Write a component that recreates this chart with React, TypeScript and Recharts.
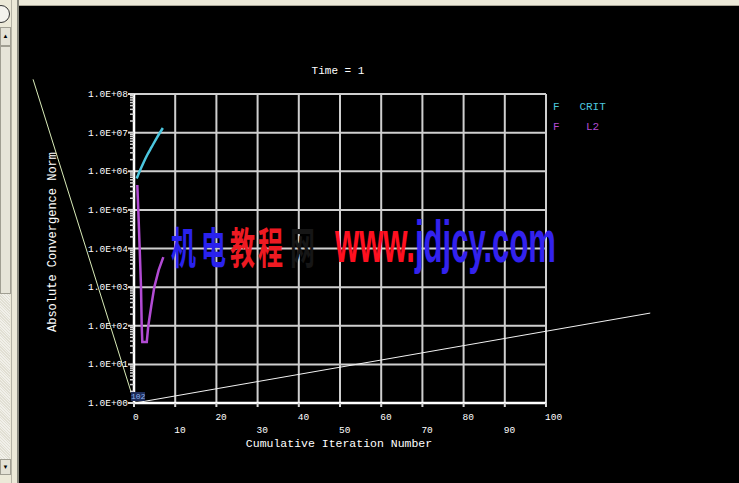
import React from 'react';
import { CartesianGrid, Line, LineChart, ReferenceLine, XAxis, YAxis } from 'recharts';

// ANSYS convergence plot, Time = 1
const critIter = [0.65, 1.5, 2.3, 3.2, 4.3, 5.5, 7.0];
const critNorm = [6.46e5, 1.07e6, 1.66e6, 2.63e6, 4.27e6, 7.24e6, 1.32e7];
const l2Iter = [0.8, 1.04, 1.38, 1.7, 1.87, 2.02, 3.1, 3.47, 4.2, 4.93, 6.0, 7.12];
const l2Norm = [4.4e5, 1e5, 1e4, 1e3, 1e2, 38, 38, 100, 330, 1000, 2800, 6000];

const xTicks = [0, 10, 20, 30, 40, 50, 60, 70, 80, 90, 100];
const yMajor = [1, 1e1, 1e2, 1e3, 1e4, 1e5, 1e6, 1e7, 1e8];
const yMinor: number[] = [];
for (let d = 0; d < 8; d++) {
  for (let m = 2; m <= 9; m++) yMinor.push(m * Math.pow(10, d));
}

// stray screen traces
const traceYellow = [{ x: -24.5, y: 2.4e8 }, { x: 0, y: 1.1 }];
const traceWhite = [{ x: 0.2, y: 1 }, { x: 125.3, y: 213 }];

const critData = critIter.map((x, i) => ({ x, y: critNorm[i] }));
const l2Data = l2Iter.map((x, i) => ({ x, y: l2Norm[i] }));

const mono = '"Liberation Mono", "DejaVu Sans Mono", monospace';
const CYAN = '#4cc6de';
const MAGENTA = '#b24bd4';

function YTick(props: any) {
  const { x, y, payload } = props;
  const lg = Math.log10(payload.value);
  const exp = Math.round(lg);
  const major = Math.abs(lg - exp) < 1e-6;
  return (
    <g>
      <line x1={x - (major ? 6 : 4)} x2={x} y1={y} y2={y} stroke="#d8d8d8" strokeWidth={major ? 2 : 1.5} />
      {major && (
        <text x={x - 6} y={y} dy={3} textAnchor="end" fill="#fff" fontSize={9.5} fontFamily={mono}>
          {`1.0E+${String(exp).padStart(2, '0')}`}
        </text>
      )}
    </g>
  );
}

function XTick(props: any) {
  const { x, y, payload } = props;
  const odd = (payload.value / 10) % 2 === 1;
  return (
    <g>
      <line x1={x} x2={x} y1={y} y2={y + 4} stroke="#d8d8d8" strokeWidth={2} />
      <text x={x - 1} y={y + (odd ? 30 : 17)} fill="#fff" fontSize={9.5} fontFamily={mono}>
        {payload.value}
      </text>
    </g>
  );
}

const chrome = '#ece9d8';

export default function App() {
  return (
    <div style={{ position: 'fixed', left: 0, top: 0, width: 739, height: 483, background: '#000', overflow: 'hidden' }}>
      {/* window chrome */}
      <div style={{ position: 'absolute', left: 0, top: 0, width: 739, height: 5, background: chrome, borderBottom: '1px solid #aca899' }} />
      <div style={{ position: 'absolute', left: 0, top: 0, width: 17, height: 483, background: chrome, borderRight: '2px solid #8a8a80' }}>
        <div style={{ position: 'absolute', left: -8, top: 5, width: 16, height: 16, borderRadius: 9, border: '1px solid #333', background: '#f4f3ee' }} />
        <div style={{ position: 'absolute', left: 0, top: 27, width: 9, height: 17, background: '#e4e2d6', border: '1px solid #a09e92', fontSize: 6, lineHeight: '17px', textAlign: 'center' }}>▲</div>
        <div style={{ position: 'absolute', left: 0, top: 46, width: 9, height: 246, background: '#e6e4d8', border: '1px solid #a09e92' }} />
        <div style={{ position: 'absolute', left: 0, top: 294, width: 10, height: 165, background: 'repeating-linear-gradient(45deg,#f1f0ea 0 1px,#e1dfd3 1px 2px)' }} />
        <div style={{ position: 'absolute', left: 0, top: 459, width: 9, height: 14, background: '#e4e2d6', border: '1px solid #a09e92', fontSize: 6, lineHeight: '14px', textAlign: 'center' }}>▼</div>
        <div style={{ position: 'absolute', left: 11, top: 0, width: 1, height: 483, background: '#b5b3a6' }} />
      </div>

      <div style={{ position: 'absolute', left: 0, top: 0 }}>
        <LineChart width={739} height={483} margin={{ top: 94, right: 193, bottom: 40, left: 34 }}>
          <CartesianGrid
            stroke="#cfcfcf"
            strokeWidth={2}
            horizontalValues={yMajor}
            verticalValues={xTicks}
          />
          <XAxis
            type="number"
            dataKey="x"
            domain={[0, 100]}
            ticks={xTicks}
            allowDataOverflow
            height={40}
            tickSize={0}
            tickMargin={0}
            tickLine={false}
            tick={<XTick />}
            axisLine={{ stroke: '#ffffff', strokeWidth: 2.5 }}
            interval={0}
          />
          <YAxis
            type="number"
            dataKey="y"
            scale="log"
            domain={[1, 1e8]}
            ticks={[...yMajor, ...yMinor]}
            allowDataOverflow
            width={100}
            tickSize={0}
            tickMargin={0}
            tickLine={false}
            tick={<YTick />}
            axisLine={{ stroke: '#ffffff', strokeWidth: 2.5 }}
            interval={0}
          />
          <ReferenceLine segment={traceYellow} stroke="#d9ebb8" strokeWidth={1} ifOverflow="visible" />
          <ReferenceLine segment={traceWhite} stroke="#f2f2f2" strokeWidth={1} ifOverflow="visible" />
          <Line data={critData} dataKey="y" type="monotone" stroke={CYAN} strokeWidth={2.5} dot={false} isAnimationActive={false} />
          <Line data={l2Data} dataKey="y" type="linear" stroke={MAGENTA} strokeWidth={2.5} dot={false} isAnimationActive={false} />
        </LineChart>
      </div>

      {/* texts */}
      <div style={{ position: 'absolute', left: 338, top: 71, transform: 'translate(-50%,-50%)', color: '#fff', fontFamily: mono, fontSize: 11, whiteSpace: 'pre' }}>
        Time = 1
      </div>
      <div style={{ position: 'absolute', left: 339, top: 443, transform: 'translate(-50%,-50%)', color: '#fff', fontFamily: mono, fontSize: 11.5, whiteSpace: 'pre' }}>
        Cumulative Iteration Number
      </div>
      <div style={{ position: 'absolute', left: 53, top: 242, transform: 'translate(-50%,-50%) rotate(-90deg)', color: '#fff', fontFamily: mono, fontSize: 12, whiteSpace: 'pre' }}>
        Absolute Convergence Norm
      </div>
      <div style={{ position: 'absolute', left: 553, top: 97, color: CYAN, fontFamily: mono, fontSize: 11, whiteSpace: 'pre', lineHeight: '20px' }}>
        {'F   CRIT'}
      </div>
      <div style={{ position: 'absolute', left: 553, top: 117, color: MAGENTA, fontFamily: mono, fontSize: 11, whiteSpace: 'pre', lineHeight: '20px' }}>
        {'F    L2'}
      </div>
      <div style={{ position: 'absolute', left: 131, top: 392, color: '#8fb0e8', background: '#1c2c5a', fontFamily: mono, fontSize: 8, lineHeight: '9px' }}>102</div>

      {/* watermark */}
      <svg width={739} height={483} style={{ position: 'absolute', left: 0, top: 0, pointerEvents: 'none' }}>
        <g transform="translate(0,264) scale(1,1.75)">
          <text y={0} fontFamily='"Noto Sans CJK SC"' fontWeight={700} fontSize={25}>
            <tspan x={171} fill="#2a22ee">机</tspan>
            <tspan x={201} fill="#2a22ee">电</tspan>
            <tspan x={230} fill="#ee1a22">教</tspan>
            <tspan x={258} fill="#ee1a22">程</tspan>
            <tspan x={290} fill="#161616">网</tspan>
          </text>
        </g>
        <g transform="translate(0,262) scale(1,1.9)">
          <text x={335} y={0} fontFamily='"Liberation Sans", Arial' fontWeight={700} fontSize={31} textLength={221} lengthAdjust="spacingAndGlyphs">
            <tspan fill="#ff1020">www.</tspan>
            <tspan fill="#3322ee">jdjcy.com</tspan>
          </text>
        </g>
      </svg>
    </div>
  );
}
